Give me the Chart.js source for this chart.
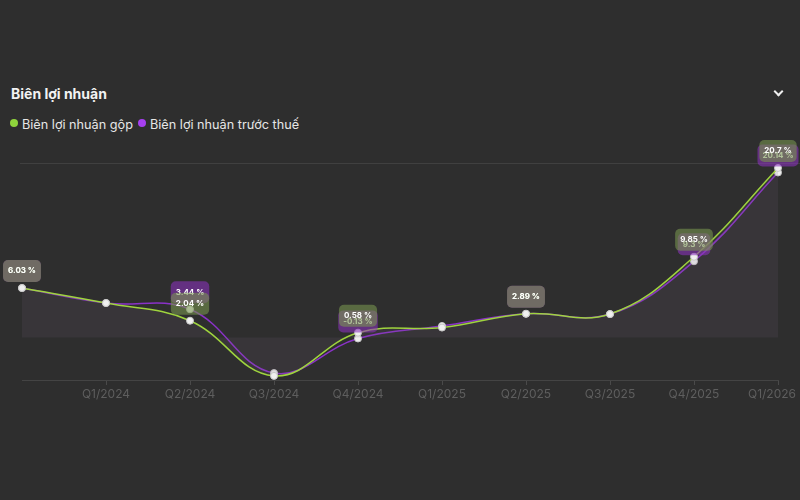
<!DOCTYPE html>
<html>
<head>
<meta charset="utf-8">
<script src="https://cdn.jsdelivr.net/npm/chart.js@4"></script>
<style>
  html, body { margin: 0; padding: 0; background: #2e2e2e; }
  body { width: 800px; height: 500px; position: relative; overflow: hidden; font-family: Inter, "Noto Sans", sans-serif; }
  #c { position: absolute; left: 0; top: 0; }
  .title { position: absolute; left: 11px; top: 85px; font-size: 14px; font-weight: 700; color: #f2f2f2; }
  .chev { position: absolute; left: 775px; top: 88px; width: 5px; height: 5px; border-right: 2px solid #eee; border-bottom: 2px solid #eee; transform: rotate(45deg); }
  .legend { position: absolute; left: 10px; top: 117px; font-size: 12.7px; color: #e6e6e6; display: flex; align-items: center; }
  .legend .dot { width: 8px; height: 8px; border-radius: 50%; display: inline-block; margin-right: 4px; position: relative; top: -2px; }
  .legend .item { margin-right: 5px; display: flex; align-items: center; }
</style>
</head>
<body>
<div class="title">Biên lợi nhuận</div>
<div class="chev"></div>
<div class="legend">
  <span class="item"><span class="dot" style="background:#8fd43c"></span>Biên lợi nhuận gộp</span>
  <span class="item"><span class="dot" style="background:#a63ff0"></span>Biên lợi nhuận trước thuế</span>
</div>
<canvas id="c" width="800" height="500"></canvas>
<script>
const categories = ["Q4/2023","Q1/2024","Q2/2024","Q3/2024","Q4/2024","Q1/2025","Q2/2025","Q3/2025","Q4/2025","Q1/2026"];
const grossMargin = [6.03, 4.2, 2.04, -4.7, 0.58, 1.2, 2.89, 2.85, 9.85, 20.7];
const pretaxMargin = [6.03, 4.2, 3.44, -4.35, -0.13, 1.4, 2.89, 2.85, 9.3, 20.14];
const labelIndices = [0, 2, 4, 6, 8, 9];
const yMin = -5.2, yMax = 21.3;

const labelPlugin = {
  id: 'boxLabels',
  beforeDraw(chart) {
    const xs = chart.scales.x;
    const items = xs.getLabelItems(chart.chartArea);
    if (items.length) {
      const last = items[items.length - 1];
      last.options.translation[0] -= 6;
    }
  },
  beforeDatasetsDraw(chart) {
    const y = chart.scales.y, ctx = chart.ctx, a = chart.chartArea;
    const py = y.getPixelForValue(yMax);
    ctx.save();
    ctx.strokeStyle = '#404040';
    ctx.lineWidth = 1;
    ctx.beginPath();
    ctx.moveTo(a.left - 2, Math.round(py) + 0.5);
    ctx.lineTo(chart.width, Math.round(py) + 0.5);
    ctx.stroke();
    ctx.restore();
  },
  afterDatasetsDraw(chart) {
    const ctx = chart.ctx;
    const bg = ['rgba(120,150,80,0.58)', 'rgba(140,50,190,0.58)'];
    [1, 0].forEach(di => {
      const meta = chart.getDatasetMeta(di);
      const data = chart.data.datasets[di].data;
      labelIndices.forEach(i => {
        const el = meta.data[i];
        const txt = data[i] + ' %';
        ctx.save();
        ctx.font = 'bold 8px Inter, sans-serif';
        const w = ctx.measureText(txt).width + 10;
        const h = 22;
        const cx = el.x, cy = el.y - 17;
        ctx.fillStyle = bg[di];
        ctx.beginPath();
        ctx.roundRect(cx - w / 2, cy - h / 2, w, h, 5);
        ctx.fill();
        ctx.fillStyle = '#ffffff';
        ctx.textAlign = 'center';
        ctx.textBaseline = 'middle';
        ctx.fillText(txt, cx, cy);
        ctx.restore();
      });
    });
  }
};

new Chart(document.getElementById('c'), {
  type: 'line',
  data: {
    labels: categories,
    datasets: [
      {
        label: 'Biên lợi nhuận gộp',
        data: grossMargin,
        borderColor: '#9fd43e',
        borderWidth: 1.5,
        tension: 0.4,
        fill: 'origin',
        backgroundColor: 'rgba(120,100,125,0.14)',
        pointRadius: 3.5,
        pointBackgroundColor: '#f0f0f0',
        pointBorderColor: '#c8c8c8',
        pointBorderWidth: 1
      },
      {
        label: 'Biên lợi nhuận trước thuế',
        data: pretaxMargin,
        borderColor: '#8a32c8',
        borderWidth: 1.5,
        tension: 0.4,
        fill: false,
        pointRadius: 3.5,
        pointBackgroundColor: '#f0f0f0',
        pointBorderColor: '#c8c8c8',
        pointBorderWidth: 1
      }
    ]
  },
  options: {
    responsive: false,
    animation: false,
    layout: { padding: { left: 22, right: 22, top: 163, bottom: 90 } },
    plugins: { legend: { display: false }, tooltip: { enabled: false } },
    scales: {
      x: {
        offset: false,
        afterFit: s => { s.height = 30; s.paddingRight = 0; s.paddingLeft = 0; },
        border: { color: '#444444' },
        grid: {
          drawOnChartArea: false,
          tickLength: 5,
          color: ctx => ctx.index === 0 ? 'rgba(0,0,0,0)' : '#4a4a4a'
        },
        ticks: {
          padding: 2,
          maxRotation: 0,
          autoSkip: false,
          color: '#5e5e5e',
          font: { size: 12, family: 'Inter, sans-serif' },
          callback: (v, i) => i === 0 ? '' : categories[i]
        }
      },
      y: {
        display: false,
        min: yMin,
        max: yMax
      }
    }
  },
  plugins: [labelPlugin]
});
</script>
</body>
</html>
